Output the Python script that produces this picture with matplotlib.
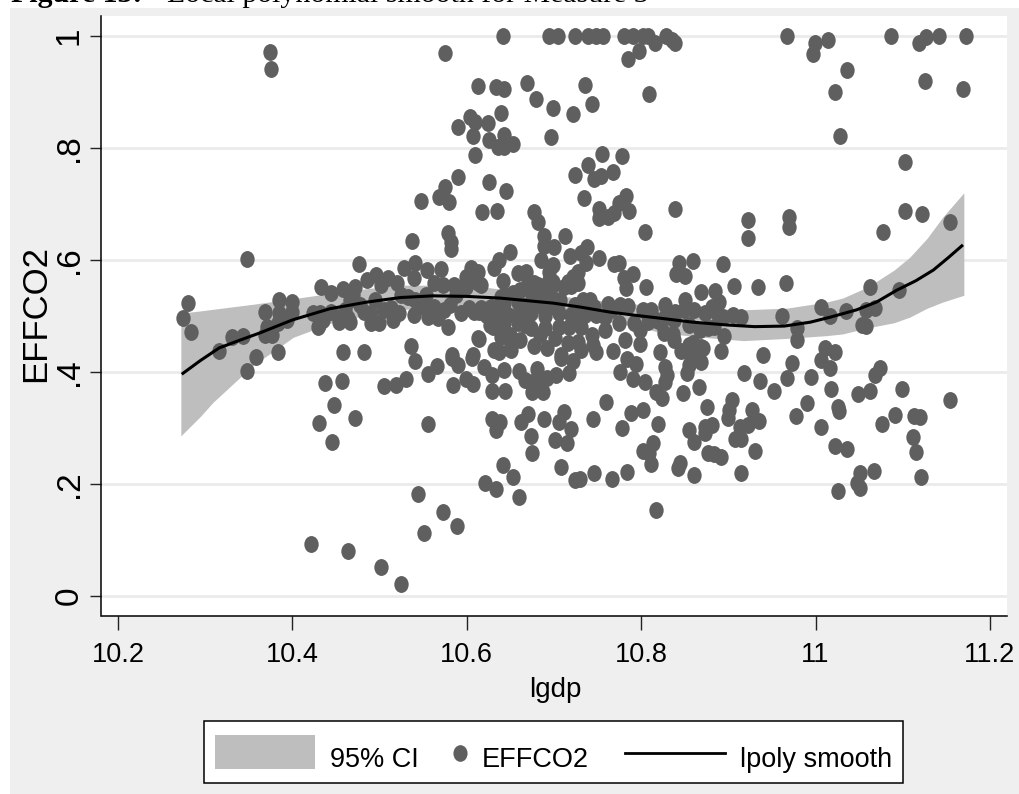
import matplotlib
matplotlib.use('Agg')
import matplotlib.pyplot as plt
from matplotlib.patches import Rectangle
from matplotlib.lines import Line2D
from matplotlib.path import Path
from matplotlib.transforms import Affine2D

x_top = [10.374,10.375,10.575,10.642,10.613,10.633,10.643,10.604,10.609,10.590,10.624,10.639,10.607,10.625,10.643,10.636,10.643,10.609,10.590,10.625,10.645,10.575,10.568,10.579,10.548,10.617,10.635,
 10.694,10.705,10.724,10.739,10.748,10.756,10.780,10.791,10.802,10.808,10.816,10.797,10.785,10.828,10.835,10.839,10.967,10.999,10.997,11.014,11.087,11.119,11.127,11.141,11.172,11.036,11.022,11.126,11.169,11.028,
 10.669,10.679,10.699,10.722,10.736,10.744,10.809,10.696,10.653]
y_top = [.971,.941,.970,1,.911,.909,.905,.855,.846,.837,.845,.862,.821,.814,.823,.802,.802,.788,.748,.739,.723,.730,.712,.703,.705,.686,.687,
 1,1,1,1,1,1,1,1,1,1,.988,.973,.959,1,.993,.988,1,.988,.968,.993,1,.988,.998,1,1,.939,.900,.920,.905,.821,
 .916,.888,.871,.861,.913,.879,.896,.820,.807]

x_high = [10.755,10.778,10.739,10.724,10.768,10.754,10.746,10.734,10.783,10.774,10.786,10.752,10.752,10.762,10.769,10.839,10.804,10.922,10.923,10.969,10.969,11.102,11.102,11.122,11.077,11.154,
 10.677,10.682,10.689,10.689,10.700,10.713,10.650,10.637,10.631,10.642,10.578,10.582,10.582,10.537,10.476,10.348]
y_high = [.789,.786,.770,.752,.757,.750,.745,.711,.714,.702,.688,.691,.675,.677,.684,.691,.650,.671,.639,.677,.659,.775,.688,.682,.650,.668,
 .686,.668,.643,.625,.623,.643,.614,.600,.586,.562,.648,.632,.620,.634,.593,.602]

x_mid_up = [10.685,10.699,10.659,10.668,10.670,10.677,10.683,10.694,10.699,10.694,10.718,10.738,10.731,10.737,10.752,10.728,10.722,10.728,10.711,10.720,
 10.769,10.774,10.780,10.791,10.783,10.806,10.843,10.859,10.840,10.850,10.894,10.868,10.885,10.906,10.934,10.966,10.889,10.881,10.850,10.827,10.733,10.762,10.785,10.746,11.006,11.062,11.096,11.068,11.058,11.035,11.016,10.962,11.053]
y_mid_up = [.600,.591,.577,.579,.561,.559,.546,.579,.561,.541,.607,.623,.613,.595,.604,.579,.570,.559,.552,.554,
 .593,.595,.568,.575,.550,.552,.595,.598,.575,.571,.593,.543,.545,.554,.552,.559,.525,.516,.529,.520,.529,.521,.518,.516,.516,.552,.546,.514,.511,.509,.500,.500,.484]

x_left_up = [10.433,10.444,10.458,10.469,10.472,10.486,10.496,10.510,10.501,10.520,10.528,10.541,10.554,10.539,10.570,10.562,10.585,10.573,10.599,10.607,10.599,10.613,10.533,10.384,10.400,10.369,10.280,10.274]
y_left_up = [.552,.541,.548,.538,.552,.564,.573,.568,.555,.559,.586,.595,.582,.568,.584,.559,.555,.555,.570,.579,.552,.559,.534,.529,.525,.507,.523,.496]

x_left_low = [10.423,10.432,10.430,10.453,10.464,10.482,10.490,10.499,10.490,10.505,10.515,10.522,10.513,10.539,10.555,10.551,10.567,10.578,10.574,10.562,10.593,10.602,10.614,10.613,10.400,10.384,
 10.284,10.331,10.343,10.316,10.358,10.348,10.383,10.369,10.377,10.371,10.383,10.394,10.429,10.435,10.453,10.466]
y_left_low = [.505,.505,.484,.496,.496,.507,.488,.488,.505,.511,.493,.505,.514,.502,.498,.516,.496,.480,.511,.516,.505,.514,.507,.461,.507,.505,
 .471,.462,.464,.437,.427,.402,.436,.466,.466,.480,.488,.493,.480,.493,.489,.489]

x_low_left = [10.536,10.458,10.482,10.457,10.437,10.448,10.430,10.472,10.445,10.540,10.530,10.519,10.505,10.566,10.556,10.583,10.590,10.606,10.599,10.607,10.584,10.556,10.614,10.620,10.629,10.644,10.629,10.637,10.631,10.643,10.651,10.630,10.639,
 10.629,10.638,10.634,10.642,10.621,10.634,10.653,10.544,10.573,10.589,10.551,10.421,10.464,10.501,10.525,10.660,10.583,10.607]
y_low_left = [.446,.436,.436,.384,.380,.341,.309,.318,.275,.420,.388,.377,.375,.411,.396,.425,.412,.425,.388,.379,.377,.307,.459,.409,.366,.366,.395,.436,.439,.404,.439,.480,.475,
 .316,.311,.296,.234,.202,.191,.213,.182,.150,.125,.113,.093,.080,.052,.021,.177,.430,.430]

x_center = [10.616,10.628,10.643,10.659,10.670,10.683,10.694,10.608,10.622,10.633,10.647,10.660,10.674,10.690,10.706,10.720,10.735,10.748,10.758,10.653,10.674,10.639,10.616,10.605,10.613,10.682,10.694,10.697,10.716,
 10.643,10.659,10.674,10.706,10.717,10.731,10.775,10.792,10.808,10.823,10.826,10.639,10.743,10.781,10.799,10.821,10.728,10.716,10.677,10.692,10.650,10.731,10.748,10.768,10.708,10.745]
y_center = [.514,.516,.523,.525,.520,.520,.516,.507,.502,.505,.502,.505,.505,.500,.505,.502,.502,.502,.498,.541,.543,.534,.555,.586,.579,.555,.564,.550,.561,
 .488,.488,.479,.480,.480,.480,.488,.488,.489,.488,.470,.462,.466,.457,.450,.436,.454,.452,.446,.443,.441,.439,.436,.437,.430,.448]

x_band = [10.627,10.650,10.667,10.684,10.701,10.661,10.690,10.644,10.661,10.690,10.707,10.724,10.741,10.724,10.765,10.776,10.811,10.817,10.799,10.759,10.581,10.587,10.466,10.460,10.524,10.553,10.541,10.495,10.477,10.444,10.838,10.855,10.867,10.838,10.855]
y_band = [.484,.466,.484,.466,.461,.457,.479,.537,.546,.543,.529,.520,.529,.493,.511,.520,.511,.493,.475,.475,.520,.537,.529,.511,.538,.538,.529,.529,.520,.507,.493,.484,.475,.457,.448]

x_lower = [10.660,10.680,10.667,10.675,10.675,10.687,10.682,10.692,10.702,10.717,10.708,10.722,10.784,10.794,10.776,10.791,10.804,10.827,10.827,10.817,10.824,10.829,
 10.760,10.788,10.802,10.745,10.778,10.819,10.662,10.670,10.688,10.711,10.706,10.719,10.674,10.701,10.715,10.675,10.708,10.724,10.730,10.746,10.766,10.784,10.814,10.802,10.811,10.809,10.817]
y_lower = [.402,.405,.386,.382,.364,.364,.386,.389,.395,.398,.425,.420,.423,.414,.400,.388,.382,.409,.382,.364,.354,.395,
 .346,.327,.332,.316,.300,.307,.311,.325,.316,.329,.311,.298,.286,.279,.273,.255,.230,.207,.209,.220,.209,.221,.273,.259,.236,.255,.154]

x_right = [10.846,10.859,10.871,10.857,10.869,10.855,10.852,10.892,10.940,10.979,10.979,10.973,10.918,10.936,10.952,10.967,10.995,11.011,11.022,11.006,11.016,11.018,10.990,10.977,11.006,11.026,11.027,11.049,11.062,11.074,11.068,11.099,11.091,11.076,11.113,11.120,11.112,11.115,11.121,11.154,11.058,11.022,11.036,11.051,11.067,11.047,11.051,11.026,
 10.848,10.866,10.875,10.904,10.901,10.900,10.927,10.935,10.923,10.913,10.915,10.907,10.931,10.914,10.881,10.873,10.873,10.855,10.860,10.877,10.884,10.892,10.845,10.842,10.860,
 10.895,10.877,10.884,10.836,10.869,10.827,10.839,10.849,10.861,10.873,10.887,10.905,10.915,10.894,10.802]
y_right = [.437,.452,.443,.427,.418,.413,.398,.437,.430,.457,.479,.416,.398,.384,.366,.389,.391,.443,.436,.421,.407,.370,.345,.321,.302,.338,.330,.361,.366,.407,.395,.370,.323,.307,.321,.320,.284,.257,.213,.350,.482,.268,.262,.220,.223,.202,.193,.188,
 .362,.373,.338,.350,.332,.318,.332,.312,.305,.302,.280,.280,.259,.220,.305,.302,.291,.296,.275,.255,.254,.248,.237,.229,.216,
 .464,.479,.480,.468,.445,.498,.507,.511,.511,.505,.505,.502,.498,.498,.511]

smooth_x = [10.273,10.294,10.316,10.340,10.363,10.400,10.443,10.486,10.524,10.561,10.600,10.638,10.699,10.730,10.764,10.800,10.822,10.859,10.898,10.930,10.964,10.994,11.017,11.047,11.070,11.093,11.115,11.135,11.152,11.169]
smooth_y = [.396,.420,.443,.457,.470,.493,.513,.525,.533,.536,.535,.532,.523,.516,.507,.500,.496,.489,.484,.481,.482,.489,.498,.511,.525,.546,.563,.582,.604,.627]

ci_x = [10.272,10.294,10.309,10.355,10.401,10.447,10.486,10.524,10.561,10.619,10.638,10.699,10.745,10.802,10.822,10.871,10.917,10.967,11.013,11.031,11.060,11.090,11.108,11.128,11.146,11.170]
ci_up = [.505,.509,.512,.521,.531,.541,.549,.555,.555,.552,.548,.537,.529,.520,.518,.514,.511,.514,.525,.532,.552,.582,.605,.639,.677,.720]
ci_low = [.286,.320,.346,.412,.462,.489,.502,.511,.517,.514,.512,.509,.495,.479,.470,.462,.456,.460,.465,.468,.479,.488,.498,.514,.525,.537]

scatter_xs = [x_top,x_high,x_mid_up,x_left_up,x_left_low,x_low_left,x_center,x_band,x_lower,x_right]
scatter_ys = [y_top,y_high,y_mid_up,y_left_up,y_left_low,y_low_left,y_center,y_band,y_lower,y_right]

x_ticks = [10.2,10.4,10.6,10.8,11,11.2]
x_ticklabels = ['10.2','10.4','10.6','10.8','11','11.2']
y_ticks = [0,.2,.4,.6,.8,1]
y_ticklabels = ['0','.2','.4','.6','.8','1']

W,H = 1020,794
plt.rcParams['font.family'] = 'Liberation Sans'
GRAY='#EFEFEF'; DOT='#5F5F5F'; BAND='#BEBEBE'

fig = plt.figure(figsize=(W/100,H/100),dpi=100,facecolor='white')
fx = lambda p: p/W
fy = lambda p: 1-p/H
fig.patches.append(Rectangle((fx(10),0),1-fx(10),fy(8),transform=fig.transFigure,facecolor=GRAY,edgecolor='none',zorder=-5))

ax = fig.add_axes([fx(101.5),fy(616),fx(1007-101.5),(616-16)/H],facecolor='white')
ax.set_xlim(10.181,11.2195)
ax.set_ylim(-.0357,1.0357)
for s in ['top','right']:
    ax.spines[s].set_visible(False)
for s in ['left','bottom']:
    ax.spines[s].set_linewidth(1.1)
ax.set_axisbelow(True)
ax.grid(axis='y',color='#EAEAEA',linewidth=1.9)
ax.grid(axis='x',visible=False)
ax.set_xticks(x_ticks,x_ticklabels)
ax.set_yticks(y_ticks,y_ticklabels)
ax.tick_params(axis='x',length=10,width=1,labelsize=19.5,pad=9,color='#222222')
ax.tick_params(axis='y',length=8,width=1,labelsize=24,pad=4,color='#222222')
for t in ax.get_yticklabels():
    t.set_rotation(90); t.set_va('center'); t.set_ha('right')

ax.fill_between(ci_x,ci_low,ci_up,color=BAND,linewidth=0,zorder=2,label='95% CI')
marker = Path.unit_circle().transformed(Affine2D().scale(.85,1))
for xs,ys in zip(scatter_xs,scatter_ys):
    ax.scatter(xs,ys,s=148,marker=marker,color=DOT,linewidths=0,zorder=3)
ax.plot(smooth_x,smooth_y,color='black',linewidth=2.2,zorder=4,solid_capstyle='butt')

ax.set_xlabel('lgdp',fontsize=20)
ax.xaxis.set_label_coords(fx(555),fy(697),transform=fig.transFigure)
ax.xaxis.label.set_va('baseline')
ax.set_ylabel('EFFCO2',fontsize=25)
ax.yaxis.set_label_coords(fx(35.5),fy(313),transform=fig.transFigure)
ax.yaxis.label.set_va('center')

# legend box
fig.patches.append(Rectangle((fx(204),fy(783)),fx(903-204),(783-721)/H,transform=fig.transFigure,facecolor='white',edgecolor='black',linewidth=1.1,zorder=5))
fig.patches.append(Rectangle((fx(215),fy(769)),fx(100),(769-735)/H,transform=fig.transFigure,facecolor=BAND,edgecolor='none',zorder=6))
fig.lines.append(Line2D([fx(625),fx(725)],[fy(753),fy(753)],transform=fig.transFigure,color='black',linewidth=2.0,zorder=6))
fig.lines.append(Line2D([fx(460)],[fy(753)],transform=fig.transFigure,marker=marker,markersize=12,color=DOT,markeredgewidth=0,linestyle='none',zorder=6))
for px,s in [(330,'95% CI'),(482,'EFFCO2'),(740,'lpoly smooth')]:
    fig.text(fx(px),fy(767),s,fontsize=19.5,va='baseline',ha='left',zorder=7)

# title, cut by the top edge as in the reference
fig.text(fx(11),fy(2.5),'Figure 13:',family='Liberation Serif',weight='bold',fontsize=21.5,va='baseline',ha='left')
fig.text(fx(167),fy(2.5),'Local polynomial smooth for Measure 3',family='Liberation Serif',fontsize=21.5,va='baseline',ha='left')

fig.savefig('out.png',dpi=100,facecolor='white')
